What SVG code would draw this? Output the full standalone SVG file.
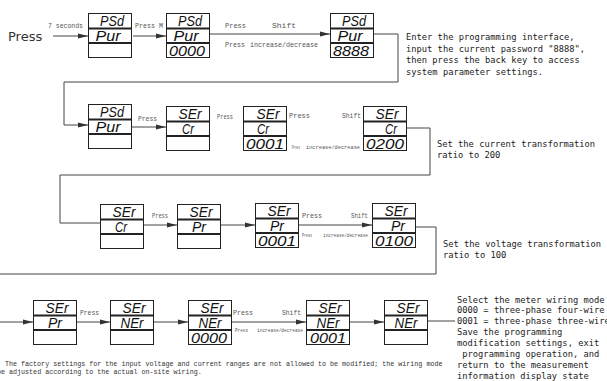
<svg xmlns="http://www.w3.org/2000/svg" xmlns:xlink="http://www.w3.org/1999/xlink" width="607" height="381" viewBox="0 0 607 381">
<style>
.frm{fill:#fff;stroke:#222;stroke-width:1}
.sep{stroke:#222;stroke-width:2}
.seg{font-family:"Liberation Sans",sans-serif;font-style:italic;font-size:14px;fill:#111}
.lbl{font-family:"Liberation Mono",monospace;font-size:8px;fill:#555}
.big{font-family:"DejaVu Sans",sans-serif;font-size:13px;fill:#333}
.txt{font-family:"DejaVu Sans Mono",monospace;font-size:8.75px;fill:#222}
.note{font-family:"Liberation Mono",monospace;font-size:6.7px;fill:#333}
.conn{fill:none;stroke:#444;stroke-width:1}
</style>
<defs>
<marker id="ah" markerUnits="userSpaceOnUse" markerWidth="11" markerHeight="6" refX="10" refY="3" orient="auto">
<path d="M0,0.5 L10,3 L0,5.5 z" fill="#333"/>
</marker>
<g id="frame">
<rect class="frm" x="0.5" y="0.5" width="43" height="44"/>
<line class="sep" x1="0.5" y1="15.5" x2="43.5" y2="15.5"/>
<line class="sep" x1="0.5" y1="30" x2="43.5" y2="30"/>
</g>
</defs>

<g id="connectors">
<path class="conn" d="M53,36 H88" marker-end="url(#ah)"/>
<path class="conn" d="M133,36 H166" marker-end="url(#ah)"/>
<path class="conn" d="M206,34 H330" marker-end="url(#ah)"/>
<path class="conn" d="M374,34 H398 V82 H64 V125 H88" marker-end="url(#ah)"/>
<path class="conn" d="M132,127 H166" marker-end="url(#ah)"/>
<path class="conn" d="M407,128 H430 V175 H60 V223 H100"/>
<path class="conn" d="M143,225 H177" marker-end="url(#ah)"/>
<path class="conn" d="M220,225 H255" marker-end="url(#ah)"/>
<path class="conn" d="M298,225 H372" marker-end="url(#ah)"/>
<path class="conn" d="M416,227 H436 V274 H-2 V322 H33" marker-end="url(#ah)"/>
<path class="conn" d="M77,322 H110" marker-end="url(#ah)"/>
<path class="conn" d="M153,322 H188" marker-end="url(#ah)"/>
<path class="conn" d="M232,322 H306" marker-end="url(#ah)"/>
<path class="conn" d="M349,322 H384" marker-end="url(#ah)"/>
<path class="conn" d="M428,321 H455"/>
</g>

<g id="labels">
<text class="big" x="8" y="41">Press</text>
<text class="lbl" x="48" y="28" textLength="35" lengthAdjust="spacingAndGlyphs">7 seconds</text>
<text class="lbl" x="135" y="28" textLength="28" lengthAdjust="spacingAndGlyphs">Press M</text>
<text class="lbl" x="225" y="28" textLength="21" lengthAdjust="spacingAndGlyphs">Press</text>
<text class="lbl" x="272" y="28" textLength="24" lengthAdjust="spacingAndGlyphs">Shift</text>
<text class="lbl" x="225" y="47" textLength="20" lengthAdjust="spacingAndGlyphs">Press</text>
<text class="lbl" x="250" y="47" textLength="68" lengthAdjust="spacingAndGlyphs">increase/decrease</text>

<text class="lbl" x="138" y="121" textLength="19" lengthAdjust="spacingAndGlyphs">Press</text>
<text class="lbl" x="217" y="119" textLength="16" lengthAdjust="spacingAndGlyphs">Press</text>
<text class="lbl" x="289" y="118" textLength="21" lengthAdjust="spacingAndGlyphs">Press</text>
<text class="lbl" x="342" y="118" textLength="19" lengthAdjust="spacingAndGlyphs">Shift</text>
<text class="lbl" x="292" y="149" style="font-size:5px" textLength="8" lengthAdjust="spacingAndGlyphs">Press</text>
<text class="lbl" x="306" y="149" style="font-size:5px" textLength="54" lengthAdjust="spacingAndGlyphs">increase/decrease</text>

<text class="lbl" x="152" y="218" textLength="16" lengthAdjust="spacingAndGlyphs">Press</text>
<text class="lbl" x="302" y="218" textLength="20" lengthAdjust="spacingAndGlyphs">Press</text>
<text class="lbl" x="351" y="218" textLength="17" lengthAdjust="spacingAndGlyphs">Shift</text>
<text class="lbl" x="302" y="237" style="font-size:5px" textLength="10" lengthAdjust="spacingAndGlyphs">Press</text>
<text class="lbl" x="323" y="237" style="font-size:5px" textLength="45" lengthAdjust="spacingAndGlyphs">increase/decrease</text>

<text class="lbl" x="80" y="315" textLength="19" lengthAdjust="spacingAndGlyphs">Press</text>
<text class="lbl" x="233" y="315" textLength="20" lengthAdjust="spacingAndGlyphs">Press</text>
<text class="lbl" x="282" y="315" textLength="19" lengthAdjust="spacingAndGlyphs">Shift</text>
<text class="lbl" x="235" y="332" style="font-size:5.5px" textLength="13" lengthAdjust="spacingAndGlyphs">Press</text>
<text class="lbl" x="257" y="332" style="font-size:5.5px" textLength="46" lengthAdjust="spacingAndGlyphs">increase/decrease</text>
</g>

<g id="r1b1" transform="translate(88,13)"><use xlink:href="#frame"/><text class="seg" x="24" y="13" text-anchor="middle" textLength="24" lengthAdjust="spacingAndGlyphs">PSd</text><text class="seg" x="20" y="28" text-anchor="middle" textLength="25" lengthAdjust="spacingAndGlyphs">Pur</text></g>
<g id="r1b2" transform="translate(166,13)"><use xlink:href="#frame"/><text class="seg" x="24" y="13" text-anchor="middle" textLength="24" lengthAdjust="spacingAndGlyphs">PSd</text><text class="seg" x="20" y="28" text-anchor="middle" textLength="25" lengthAdjust="spacingAndGlyphs">Pur</text><text class="seg" x="21" y="43" text-anchor="middle" textLength="36" lengthAdjust="spacingAndGlyphs">0000</text></g>
<g id="r1b3" transform="translate(330,13)"><use xlink:href="#frame"/><text class="seg" x="24" y="13" text-anchor="middle" textLength="24" lengthAdjust="spacingAndGlyphs">PSd</text><text class="seg" x="20" y="28" text-anchor="middle" textLength="25" lengthAdjust="spacingAndGlyphs">Pur</text><text class="seg" x="21" y="43" text-anchor="middle" textLength="36" lengthAdjust="spacingAndGlyphs">8888</text></g>

<g id="r2b1" transform="translate(88,104)"><use xlink:href="#frame"/><text class="seg" x="24" y="13" text-anchor="middle" textLength="24" lengthAdjust="spacingAndGlyphs">PSd</text><text class="seg" x="20" y="28" text-anchor="middle" textLength="25" lengthAdjust="spacingAndGlyphs">Pur</text></g>
<g id="r2b2" transform="translate(166,106)"><use xlink:href="#frame"/><text class="seg" x="24" y="13" text-anchor="middle" textLength="23" lengthAdjust="spacingAndGlyphs">SEr</text><text class="seg" x="22" y="28" text-anchor="middle" textLength="12" lengthAdjust="spacingAndGlyphs">Cr</text></g>
<g id="r2b3" transform="translate(243,106)"><use xlink:href="#frame"/><text class="seg" x="25" y="13" text-anchor="middle" textLength="23" lengthAdjust="spacingAndGlyphs">SEr</text><text class="seg" x="20" y="28" text-anchor="middle" textLength="12" lengthAdjust="spacingAndGlyphs">Cr</text><text class="seg" x="22" y="43" text-anchor="middle" textLength="38" lengthAdjust="spacingAndGlyphs">0001</text></g>
<g id="r2b4" transform="translate(363,106)"><use xlink:href="#frame"/><text class="seg" x="24" y="13" text-anchor="middle" textLength="23" lengthAdjust="spacingAndGlyphs">SEr</text><text class="seg" x="28" y="28" text-anchor="middle" textLength="12" lengthAdjust="spacingAndGlyphs">Cr</text><text class="seg" x="22" y="43" text-anchor="middle" textLength="38" lengthAdjust="spacingAndGlyphs">0200</text></g>

<g id="r3b1" transform="translate(100,204)"><use xlink:href="#frame"/><text class="seg" x="24" y="13" text-anchor="middle" textLength="23" lengthAdjust="spacingAndGlyphs">SEr</text><text class="seg" x="21" y="28" text-anchor="middle" textLength="12" lengthAdjust="spacingAndGlyphs">Cr</text></g>
<g id="r3b2" transform="translate(177,204)"><use xlink:href="#frame"/><text class="seg" x="24" y="13" text-anchor="middle" textLength="23" lengthAdjust="spacingAndGlyphs">SEr</text><text class="seg" x="22" y="28" text-anchor="middle" textLength="14" lengthAdjust="spacingAndGlyphs">Pr</text></g>
<g id="r3b3" transform="translate(255,203)"><use xlink:href="#frame"/><text class="seg" x="24" y="13" text-anchor="middle" textLength="23" lengthAdjust="spacingAndGlyphs">SEr</text><text class="seg" x="22" y="28" text-anchor="middle" textLength="14" lengthAdjust="spacingAndGlyphs">Pr</text><text class="seg" x="22" y="43" text-anchor="middle" textLength="38" lengthAdjust="spacingAndGlyphs">0001</text></g>
<g id="r3b4" transform="translate(372,203)"><use xlink:href="#frame"/><text class="seg" x="24" y="13" text-anchor="middle" textLength="23" lengthAdjust="spacingAndGlyphs">SEr</text><text class="seg" x="26" y="28" text-anchor="middle" textLength="14" lengthAdjust="spacingAndGlyphs">Pr</text><text class="seg" x="22" y="43" text-anchor="middle" textLength="38" lengthAdjust="spacingAndGlyphs">0100</text></g>

<g id="r4b1" transform="translate(33,300)"><use xlink:href="#frame"/><text class="seg" x="24" y="13" text-anchor="middle" textLength="23" lengthAdjust="spacingAndGlyphs">SEr</text><text class="seg" x="22" y="28" text-anchor="middle" textLength="14" lengthAdjust="spacingAndGlyphs">Pr</text></g>
<g id="r4b2" transform="translate(110,300)"><use xlink:href="#frame"/><text class="seg" x="24" y="13" text-anchor="middle" textLength="23" lengthAdjust="spacingAndGlyphs">SEr</text><text class="seg" x="22" y="28" text-anchor="middle" textLength="23" lengthAdjust="spacingAndGlyphs">NEr</text></g>
<g id="r4b3" transform="translate(188,300)"><use xlink:href="#frame"/><text class="seg" x="24" y="13" text-anchor="middle" textLength="23" lengthAdjust="spacingAndGlyphs">SEr</text><text class="seg" x="22" y="28" text-anchor="middle" textLength="23" lengthAdjust="spacingAndGlyphs">NEr</text><text class="seg" x="21" y="43" text-anchor="middle" textLength="36" lengthAdjust="spacingAndGlyphs">0000</text></g>
<g id="r4b4" transform="translate(306,300)"><use xlink:href="#frame"/><text class="seg" x="24" y="13" text-anchor="middle" textLength="23" lengthAdjust="spacingAndGlyphs">SEr</text><text class="seg" x="22" y="28" text-anchor="middle" textLength="23" lengthAdjust="spacingAndGlyphs">NEr</text><text class="seg" x="22" y="43" text-anchor="middle" textLength="36" lengthAdjust="spacingAndGlyphs">0001</text></g>
<g id="r4b5" transform="translate(384,300)"><use xlink:href="#frame"/><text class="seg" x="24" y="13" text-anchor="middle" textLength="23" lengthAdjust="spacingAndGlyphs">SEr</text><text class="seg" x="22" y="28" text-anchor="middle" textLength="23" lengthAdjust="spacingAndGlyphs">NEr</text></g>

<g id="notes">
<text class="txt" x="406" y="40">Enter the programming interface,</text>
<text class="txt" x="406" y="51.5">input the current password "8888",</text>
<text class="txt" x="406" y="63">then press the back key to access</text>
<text class="txt" x="406" y="74.5">system parameter settings.</text>

<text class="txt" x="437" y="146.5">Set the current transformation</text>
<text class="txt" x="437" y="157.5">ratio to 200</text>

<text class="txt" x="443" y="246.5">Set the voltage transformation</text>
<text class="txt" x="443" y="257.5">ratio to 100</text>

<text class="txt" x="457" y="302.5">Select the meter wiring mode</text>
<text class="txt" x="457" y="313.4">0000 = three-phase four-wire</text>
<text class="txt" x="457" y="324.3">0001 = three-phase three-wire</text>
<text class="txt" x="457" y="335.2">Save the programming</text>
<text class="txt" x="457" y="346.1">modification settings, exit</text>
<text class="txt" x="462.3" y="357">programming operation, and</text>
<text class="txt" x="457" y="367.9">return to the measurement</text>
<text class="txt" x="457" y="378.8">information display state</text>

<text class="note" x="5" y="366">The factory settings for the input voltage and current ranges are not allowed to be modified; the wiring mode</text>
<text class="note" x="-3" y="374">be adjusted according to the actual on-site wiring.</text>
</g>
</svg>
